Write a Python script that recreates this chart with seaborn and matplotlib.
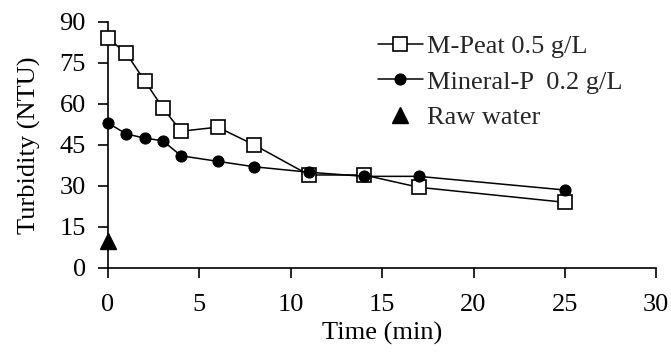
import matplotlib
matplotlib.use("Agg")
import matplotlib.pyplot as plt
import seaborn as sns
import pandas as pd

time_peat = [0, 1, 2, 3, 4, 6, 8, 11, 14, 17, 25]
turb_peat = [84, 78.5, 68.5, 58.5, 50, 51.5, 45, 34, 34, 29.5, 24]
time_min = [0, 1, 2, 3, 4, 6, 8, 11, 14, 17, 25]
turb_min = [53, 49, 47.5, 46.5, 41, 39, 37, 35, 33.5, 33.5, 28.5]
time_raw = [0]
turb_raw = [10]
labels = ["M-Peat 0.5 g/L", "Mineral-P  0.2 g/L", "Raw water"]

sns.set_theme(style="ticks")
plt.rcParams['font.family'] = ['Liberation Serif', 'DejaVu Serif']

FS = 19
fig = plt.figure(figsize=(6.71, 3.53), dpi=100)
ax = fig.add_axes([0.161, 0.241, 0.817, 0.697])

df_p = pd.DataFrame({"t": time_peat, "y": turb_peat})
df_m = pd.DataFrame({"t": time_min, "y": turb_min})
df_r = pd.DataFrame({"t": time_raw, "y": turb_raw})

sns.lineplot(data=df_p, x="t", y="y", ax=ax, color="black", lw=1.1,
             marker="s", markersize=10, markerfacecolor="white",
             markeredgecolor="black", markeredgewidth=1.2, label=labels[0],
             clip_on=False, zorder=3)
sns.lineplot(data=df_m, x="t", y="y", ax=ax, color="black", lw=1.1,
             marker="o", markersize=8, markerfacecolor="black",
             markeredgecolor="black", label=labels[1], clip_on=False, zorder=4)
ax.plot(df_r["t"], df_r["y"], linestyle="none", marker="^", markersize=11,
        color="black", label=labels[2], clip_on=False, zorder=5)

ax.set_xlim(0, 30)
ax.set_ylim(0, 90)
ax.set_xticks(range(0, 31, 5))
ax.set_yticks(range(0, 91, 15))
ax.tick_params(axis="both", labelsize=FS, direction="out", length=7,
               width=1.2, color="black", labelcolor="black")
ax.tick_params(axis="x", pad=12)
ax.tick_params(axis="y", pad=9)
for s in ["top", "right"]:
    ax.spines[s].set_visible(False)
for s in ["left", "bottom"]:
    ax.spines[s].set_color("black")
    ax.spines[s].set_linewidth(1.2)

ax.set_xlabel("Time (min)", fontsize=FS, color="black", labelpad=4)
ax.set_ylabel("Turbidity (NTU)", fontsize=FS, color="black", labelpad=13)

leg = ax.legend(loc="upper left", bbox_to_anchor=(0.473, 0.99), frameon=False,
                fontsize=FS, handlelength=1.7, handletextpad=0.15,
                labelspacing=0.45, borderaxespad=0)

fig.savefig("out.png", dpi=100)
